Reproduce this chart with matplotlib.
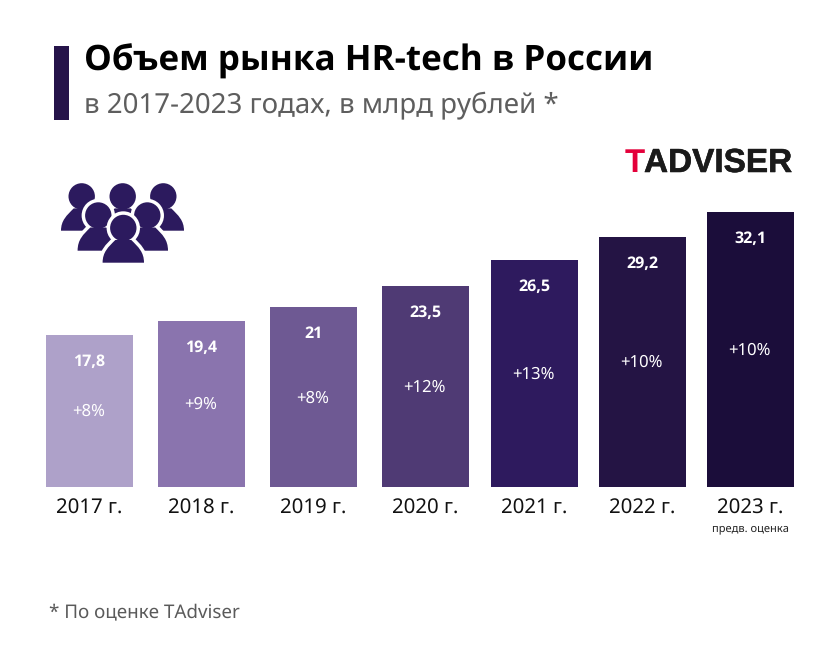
import matplotlib
matplotlib.use("Agg")
import matplotlib.pyplot as plt
import matplotlib.patheffects as pe
from matplotlib.path import Path
from matplotlib.patches import PathPatch, Circle, Rectangle

years = ["2017 г.", "2018 г.", "2019 г.", "2020 г.", "2021 г.", "2022 г.", "2023 г."]
values = [17.8, 19.4, 21.0, 23.5, 26.5, 29.2, 32.1]
value_labels = ["17,8", "19,4", "21", "23,5", "26,5", "29,2", "32,1"]
growth = ["+8%", "+9%", "+8%", "+12%", "+13%", "+10%", "+10%"]
bar_colors = ["#AEA1C9", "#8A74AE", "#6E5993", "#4F3A74", "#2E1A5E", "#241444", "#1B0D3A"]
bar_centers = [89.5, 201.5, 313.5, 425.5, 534.5, 642.5, 750]
bar_width = 87

W, H = 840, 660
plt.rcParams["font.family"] = ["Noto Sans", "DejaVu Sans"]
plt.rcParams["text.hinting"] = "no_hinting"
plt.rcParams["text.hinting_factor"] = 1
BOLD = ["Open Sans", "DejaVu Sans"]
fig = plt.figure(figsize=(W / 100, H / 100), dpi=100, facecolor="white")

ov = fig.add_axes([0, 0, 1, 1])
ov.set_xlim(0, W)
ov.set_ylim(H, 0)
ov.axis("off")

base_px, top_px = 487, 212
ax = fig.add_axes([0, 1 - base_px / H, 1, (base_px - top_px) / H])
ax.set_xlim(0, W)
ax.set_ylim(0, max(values))
ax.axis("off")
ax.patch.set_alpha(0)
ax.bar(bar_centers, values, width=bar_width, color=bar_colors, linewidth=0)

for x, v, vl, g, y in zip(bar_centers, values, value_labels, growth, years):
    ax.annotate(vl, (x, v), xytext=(0, -27 * 0.72), textcoords="offset points",
                ha="center", va="center", color="white", fontsize=11.8, fontweight="bold", family=BOLD)
    ax.annotate(g, (x, v / 2), xytext=(-0.5, -0.7), textcoords="offset points",
                ha="center", va="center", color="white", fontsize=12)
    ax.annotate(y, (x, 0), xytext=(0, -21 * 0.72), textcoords="offset points",
                ha="center", va="center", color="#111111", fontsize=14.7)

ov.text(750, 528, "предв. оценка", ha="center", va="center", fontsize=8, color="#222222")

ov.add_patch(Rectangle((54, 46), 15, 74, color="#26144A", lw=0))
ov.text(84, 61.5, "Объем рынка HR-tech в России", fontsize=25.4, fontweight="bold", family=BOLD,
        color="black", ha="left", va="center")
ov.text(84, 105, "в 2017-2023 годах, в млрд рублей *", fontsize=19.93,
        color="#5E5E5E", ha="left", va="center")
ov.text(49, 612, "* По оценке TAdviser", fontsize=13.55, color="#5A5A5A", ha="left", va="center")

stroke = [pe.withStroke(linewidth=0.4, foreground="#1A1A1A")]
ov.text(625, 172, "T", fontsize=24, fontweight="bold", family="Liberation Sans",
        color="#E4003A", ha="left", va="baseline")
ov.text(644, 172, "ADVISER", fontsize=24, fontweight="bold", family="Liberation Sans",
        color="#1A1A1A", ha="left", va="baseline", path_effects=stroke)

def person(cx, head_y, bottom, edge):
    col = "#2C1A5E"
    hw = 20.7
    v = [(cx - hw, bottom), (cx - hw, head_y + 24), (cx - 15, head_y + 19), (cx - 8, head_y + 12),
         (cx + 8, head_y + 12), (cx + 15, head_y + 19), (cx + hw, head_y + 24), (cx + hw, bottom),
         (cx - hw, bottom)]
    c = [Path.MOVETO, Path.CURVE4, Path.CURVE4, Path.CURVE4, Path.LINETO,
         Path.CURVE4, Path.CURVE4, Path.CURVE4, Path.CLOSEPOLY]
    if edge:
        ov.add_patch(PathPatch(Path(v, c), fc="white", ec="white", lw=5))
        ov.add_patch(Circle((cx, head_y), 13.2, fc="white", ec="white", lw=5))
    ov.add_patch(PathPatch(Path(v, c), fc=col, ec="none"))
    ov.add_patch(Circle((cx, head_y), 13.2, fc=col, ec="none"))

for cx, hy, b, e in [(81.7, 196.4, 230.7, False), (163.3, 196.4, 230.7, False), (122.7, 196.4, 230.7, False),
                     (98.3, 215.5, 250.7, True), (147.3, 215.5, 250.7, True), (123.3, 228, 262.7, True)]:
    person(cx, hy, b, e)

fig.savefig("out.png", dpi=100, facecolor="white")
